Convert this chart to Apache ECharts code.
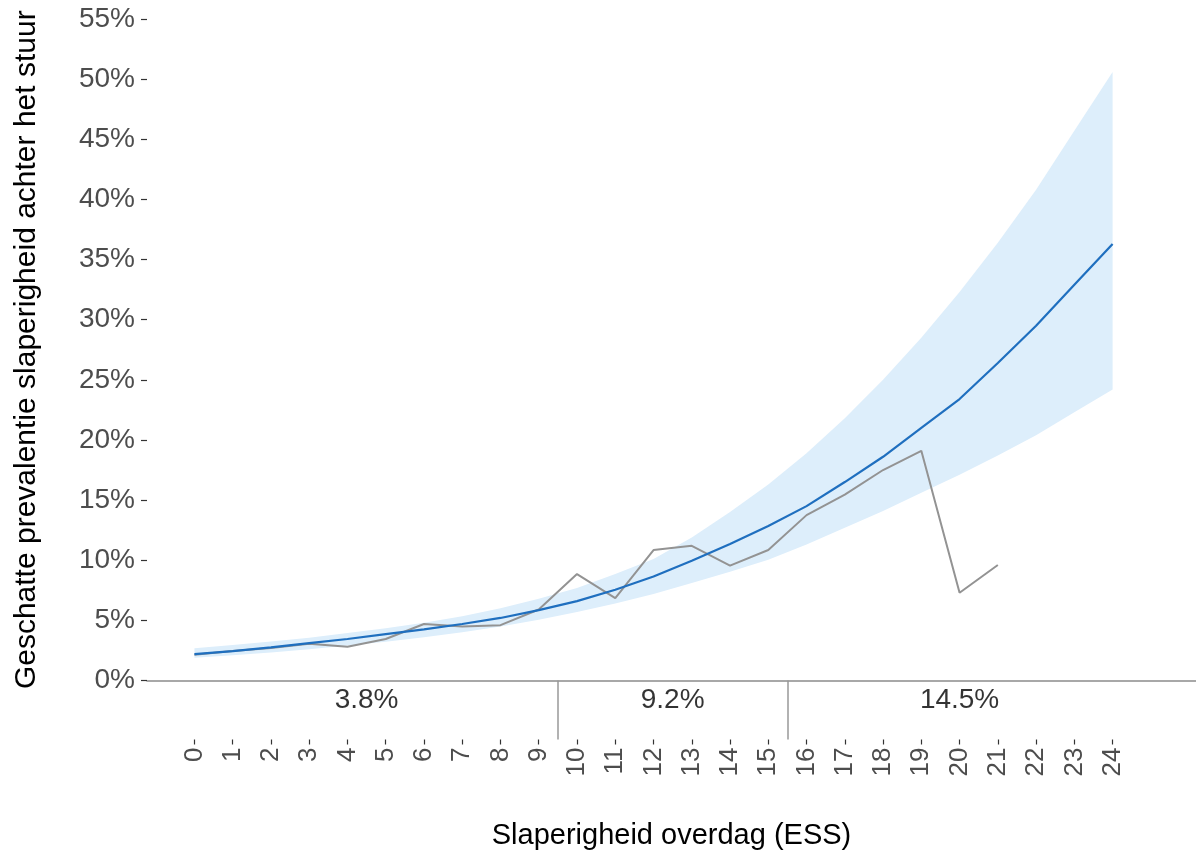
<!DOCTYPE html>
<html>
<head>
<meta charset="utf-8">
<script src="https://cdn.jsdelivr.net/npm/echarts@6/dist/echarts.min.js"></script>
<style>
  html, body { margin: 0; padding: 0; background: #ffffff; }
  #chart { width: 1196px; height: 857px; }
</style>
</head>
<body>
<div id="chart"></div>
<script>
// ESS score (Epworth Sleepiness Scale), 0..24
const essScores = [0, 1, 2, 3, 4, 5, 6, 7, 8, 9, 10, 11, 12, 13, 14, 15, 16, 17, 18, 19, 20, 21, 22, 23, 24];

// Modelled prevalence (%) with its confidence band
const fittedPrev = [2.2, 2.45, 2.75, 3.1, 3.45, 3.85, 4.25, 4.7, 5.2, 5.85, 6.6, 7.55, 8.65, 9.95, 11.35, 12.85, 14.5, 16.5, 18.6, 21.0, 23.4, 26.4, 29.5, 32.9, 36.3];
const bandLower = [1.9, 2.1, 2.33, 2.6, 2.9, 3.23, 3.6, 4.02, 4.5, 5.05, 5.7, 6.4, 7.2, 8.1, 9.05, 10.05, 11.3, 12.7, 14.1, 15.6, 17.1, 18.7, 20.4, 22.3, 24.2];
const bandUpper = [2.68, 2.95, 3.25, 3.55, 3.95, 4.35, 4.8, 5.35, 6.0, 6.8, 7.7, 8.85, 10.1, 11.9, 14.0, 16.3, 18.9, 21.8, 25.0, 28.5, 32.3, 36.4, 40.8, 45.7, 50.6];

// Observed prevalence (%) per ESS score, available up to 21
const observedPrev = [2.15, 2.45, 2.7, 3.05, 2.8, 3.45, 4.7, 4.5, 4.6, 5.9, 8.85, 6.85, 10.85, 11.2, 9.55, 10.85, 13.75, 15.45, 17.5, 19.1, 7.3, 9.6];

// ESS groups: boundaries, centres and group prevalence
const groupBreaks = [9.5, 15.5];
const groupCenters = [4.5, 12.5, 20];
const groupLabels = ['3.8%', '9.2%', '14.5%'];

const FONT = 'Liberation Sans, Arial, Helvetica, sans-serif';
const X_MIN = -1.24, X_MAX = 26.18;

const pairs = (xs, ys) => ys.map((v, i) => [xs[i], v]);

const chart = echarts.init(document.getElementById('chart'), null, { renderer: 'canvas' });

// Confidence band: one polygon, upper edge left to right then lower edge back
function renderBand(params, api) {
  if (params.dataIndex !== 0) return null;
  const pts = [];
  for (let i = 0; i < essScores.length; i++) pts.push(api.coord([essScores[i], bandUpper[i]]));
  for (let i = essScores.length - 1; i >= 0; i--) pts.push(api.coord([essScores[i], bandLower[i]]));
  return {
    type: 'polygon',
    shape: { points: pts },
    style: { fill: '#ddeefb', stroke: null }
  };
}

const option = {
  animation: false,
  backgroundColor: '#ffffff',
  textStyle: { fontFamily: FONT },
  grid: [
    { left: 147, right: 0, top: 19, bottom: 176.5 },
    { left: 147, right: 0, top: 680.5, bottom: 117.5 }
  ],
  xAxis: [
    {
      gridIndex: 0, type: 'value', min: X_MIN, max: X_MAX,
      axisLine: { show: true, onZero: false, lineStyle: { color: '#8c8c8c', width: 1.5 } },
      axisTick: { show: false }, axisLabel: { show: false }, splitLine: { show: false }
    },
    {
      gridIndex: 1, type: 'value', min: X_MIN, max: X_MAX, position: 'bottom',
      axisLine: { show: false, onZero: false },
      axisTick: { show: true, customValues: essScores, length: 5, lineStyle: { color: '#333333', width: 1.2 } },
      axisLabel: { customValues: essScores, rotate: 90, fontSize: 26, color: '#4d4d4d', margin: 8, fontFamily: FONT },
      splitLine: { show: false },
      name: 'Slaperigheid overdag (ESS)', nameLocation: 'middle', nameGap: 82,
      nameTextStyle: { fontSize: 29, color: '#000000', fontFamily: FONT }
    }
  ],
  yAxis: [
    {
      gridIndex: 0, type: 'value', min: 0, max: 55, interval: 5,
      axisLine: { show: false, onZero: false },
      axisTick: { show: true, length: 6, lineStyle: { color: '#333333', width: 1.2 } },
      axisLabel: { fontSize: 28, color: '#4d4d4d', margin: 12, fontFamily: FONT, formatter: v => v + '%' },
      splitLine: { show: false },
      name: 'Geschatte prevalentie slaperigheid achter het stuur',
      nameLocation: 'middle', nameGap: 105,
      nameTextStyle: { fontSize: 30, color: '#000000', fontFamily: FONT }
    },
    { gridIndex: 1, type: 'value', min: 0, max: 1, show: false }
  ],
  series: [
    {
      name: 'band', type: 'custom', xAxisIndex: 0, yAxisIndex: 0,
      data: pairs(essScores, fittedPrev), renderItem: renderBand, silent: true, z: 1,
      clip: false
    },
    {
      name: 'observed', type: 'line', xAxisIndex: 0, yAxisIndex: 0,
      data: pairs(essScores, observedPrev), symbol: 'none',
      lineStyle: { color: '#939393', width: 2 }, z: 3
    },
    {
      name: 'fitted', type: 'line', xAxisIndex: 0, yAxisIndex: 0,
      data: pairs(essScores, fittedPrev), symbol: 'none',
      lineStyle: { color: '#1f6fbf', width: 2.2 }, z: 4
    },
    {
      name: 'groups', type: 'scatter', xAxisIndex: 1, yAxisIndex: 1,
      data: groupCenters.map(c => [c, 0.67]),
      symbolSize: 1, itemStyle: { color: 'rgba(0,0,0,0)' }, silent: true,
      label: {
        show: true, position: 'inside', fontSize: 28, color: '#000000', fontFamily: FONT,
        formatter: p => groupLabels[p.dataIndex]
      },
      markLine: {
        silent: true, symbol: 'none', label: { show: false },
        lineStyle: { color: '#999999', width: 1.5, type: 'solid' },
        data: groupBreaks.map(b => ({ xAxis: b }))
      }
    }
  ]
};

chart.setOption(option);
</script>
</body>
</html>
